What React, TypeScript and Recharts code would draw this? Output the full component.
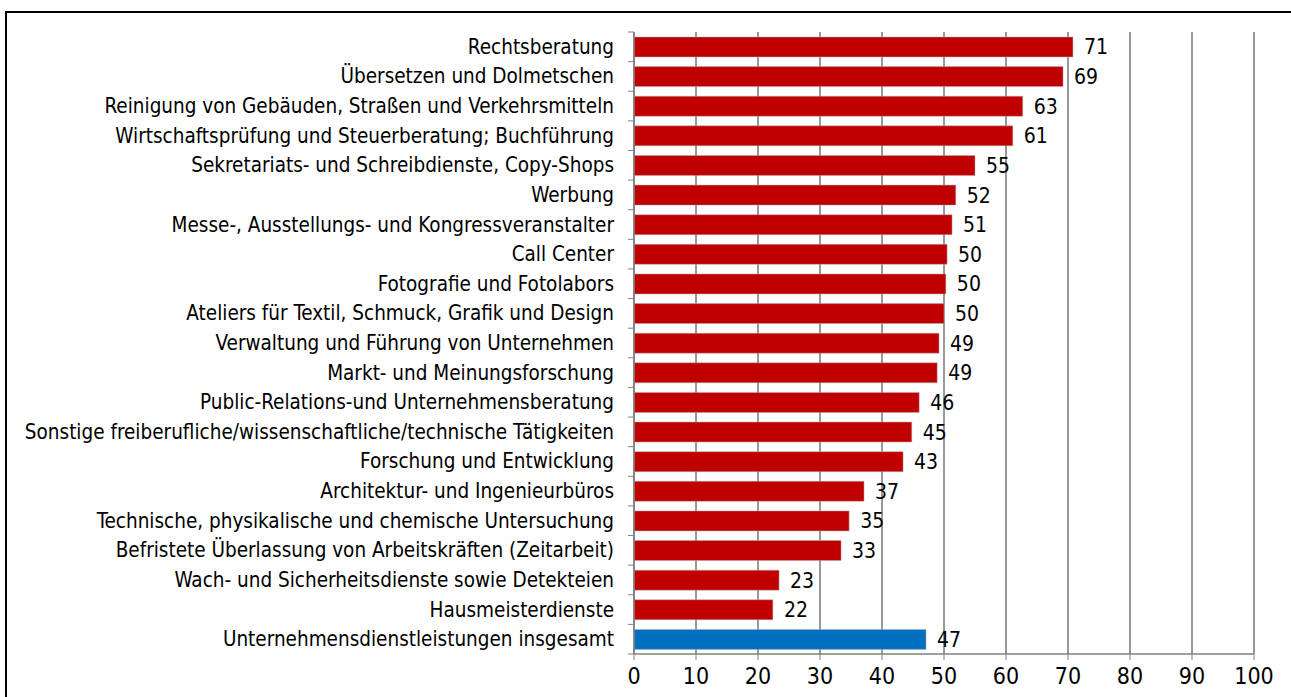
import React from "react";
import { BarChart, Bar, XAxis, YAxis, CartesianGrid, Cell, LabelList } from "recharts";

const categories = [
  "Rechtsberatung",
  "Übersetzen und Dolmetschen",
  "Reinigung von Gebäuden, Straßen und Verkehrsmitteln",
  "Wirtschaftsprüfung und Steuerberatung; Buchführung",
  "Sekretariats- und Schreibdienste, Copy-Shops",
  "Werbung",
  "Messe-, Ausstellungs- und Kongressveranstalter",
  "Call Center",
  "Fotografie und Fotolabors",
  "Ateliers für Textil, Schmuck, Grafik und Design",
  "Verwaltung und Führung von Unternehmen",
  "Markt- und Meinungsforschung",
  "Public-Relations-und Unternehmensberatung",
  "Sonstige freiberufliche/wissenschaftliche/technische Tätigkeiten",
  "Forschung und Entwicklung",
  "Architektur- und Ingenieurbüros",
  "Technische, physikalische und chemische Untersuchung",
  "Befristete Überlassung von Arbeitskräften (Zeitarbeit)",
  "Wach- und Sicherheitsdienste sowie Detekteien",
  "Hausmeisterdienste",
  "Unternehmensdienstleistungen insgesamt",
];

const values = [70.8, 69.2, 62.7, 61.1, 55.0, 51.9, 51.3, 50.5, 50.3, 50.0, 49.2, 48.9, 46.0, 44.8, 43.4, 37.1, 34.7, 33.4, 23.4, 22.4, 47.1];
const valueLabels = [71, 69, 63, 61, 55, 52, 51, 50, 50, 50, 49, 49, 46, 45, 43, 37, 35, 33, 23, 22, 47];
const xTicks = [0, 10, 20, 30, 40, 50, 60, 70, 80, 90, 100];

const RED = "#C00000";
const BLUE = "#0070C0";
const FONT = "'Liberation Sans Narrow', 'DejaVu Sans Condensed', sans-serif";

const data = categories.map((c, i) => ({ name: c, value: values[i], label: valueLabels[i] }));

const YTick = (props: any) => {
  const { x, y, payload } = props;
  const half = 29.62 / 2;
  return (
    <g>
      <line x1={x + 14} x2={x + 20} y1={y - half} y2={y - half} stroke="#808080" />
      {payload.index === categories.length - 1 && (
        <line x1={x + 14} x2={x + 20} y1={y + half} y2={y + half} stroke="#808080" />
      )}
      <text x={x} y={y} dy={7} textAnchor="end" fontSize={20.5} fill="#000" fontFamily={FONT}>
        {payload.value}
      </text>
    </g>
  );
};

export default function App() {
  return (
    <div style={{ position: "absolute", left: 0, top: 0, width: 1291, height: 697, background: "#fff", overflow: "hidden" }}>
      <div style={{ position: "absolute", left: 5, top: 11, width: 1400, height: 800, borderTop: "2px solid #000", borderLeft: "2px solid #000" }} />
      <div style={{ position: "absolute", left: 0, top: 0 }}>
        <BarChart
          width={1291}
          height={697}
          data={data}
          layout="vertical"
          margin={{ top: 32, right: 37, bottom: 0, left: 0 }}
          barSize={20}
        >
          <CartesianGrid horizontal={false} vertical={true} stroke="#333333" strokeWidth={1} />
          <XAxis
            type="number"
            domain={[0, 100]}
            ticks={xTicks}
            height={43}
            axisLine={{ stroke: "#808080", strokeWidth: 1.5 }}
            tickLine={{ stroke: "#808080" }}
            tickSize={6}
            tick={{ fontSize: 23, fill: "#000", fontFamily: FONT }}
            tickMargin={8}
            interval={0}
          />
          <YAxis
            type="category"
            dataKey="name"
            width={634}
            axisLine={{ stroke: "#808080", strokeWidth: 1.5 }}
            tickLine={false}
            tickSize={0}
            tickMargin={20}
            interval={0}
            tick={<YTick />}
          />
          <Bar dataKey="value" isAnimationActive={false} stroke="#b0b0b0" strokeWidth={0.5}>
            {data.map((d, i) => (
              <Cell key={i} fill={i === data.length - 1 ? BLUE : RED} />
            ))}
            <LabelList dataKey="label" position="right" offset={11} fontSize={21} fill="#000" fontFamily={FONT} />
          </Bar>
        </BarChart>
      </div>
    </div>
  );
}
